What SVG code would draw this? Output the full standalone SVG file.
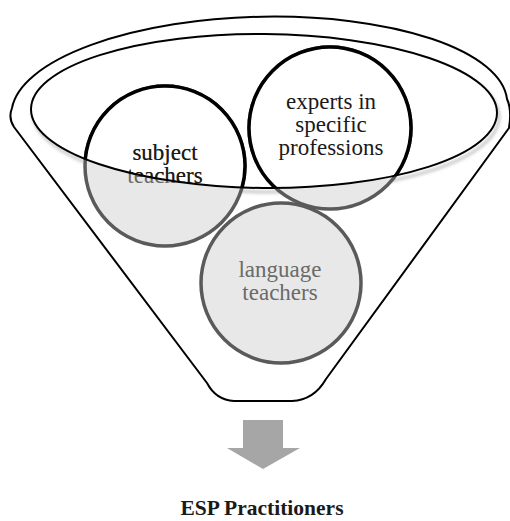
<svg xmlns="http://www.w3.org/2000/svg" width="510" height="521" viewBox="0 0 510 521">
  <defs>
    <style>
      .rim { fill: #ffffff; stroke: #000000; stroke-width: 2; stroke-linejoin: round; }
      .bowl-line { fill: none; stroke: #000000; stroke-width: 2; }
      .ball { fill: #e8e8e8; stroke: #5a5a5a; stroke-width: 3.5; }
      .ball-top { fill: #ffffff; stroke: #000000; stroke-width: 3.5; }
      .lbl { font-family: "Liberation Serif", "Times New Roman", serif; font-size: 23px; text-anchor: middle; }
      .lbl-low { fill: #6a6a6a; }
      .lbl-high { fill: #1a1a1a; }
      .arrow { fill: #a6a6a6; }
      .caption { font-family: "Liberation Serif", "Times New Roman", serif; font-size: 21.5px; font-weight: bold; fill: #1a1a1a; text-anchor: middle; }
    </style>
    <!-- opening of the funnel: everything inside it is shown un-shaded -->
    <clipPath id="mouth">
      <ellipse cx="264" cy="111" rx="233" ry="77" transform="rotate(0.5 264 111)"/>
    </clipPath>
    <filter id="soft" x="-10%" y="-10%" width="120%" height="130%">
      <feGaussianBlur stdDeviation="1.5"/>
    </filter>
  </defs>

  <!-- funnel body -->
  <g id="funnel">
    <path class="rim" d="M 14,127 Q 8,118 12,108 A 248 92 -1.5 0 1 507,99 Q 512,110 509,128 L 326,379 Q 314,400 292,401 L 234,401 Q 216,400 207,383 Z"/>
    <ellipse cx="266" cy="115" rx="233" ry="77" transform="rotate(0.5 266 115)" fill="none" stroke="#c8c8c8" stroke-width="3" filter="url(#soft)"/>
    <ellipse cx="264" cy="111" rx="233" ry="77" transform="rotate(0.5 264 111)" fill="#ffffff"/>
  </g>

  <g id="subject-teachers">
    <circle class="ball" cx="165" cy="166" r="80"/>
    <circle class="ball-top" cx="165" cy="166" r="80" clip-path="url(#mouth)"/>
    <text class="lbl lbl-low" x="165" y="160">subject</text>
    <text class="lbl lbl-low" x="165" y="183">teachers</text>
    <g clip-path="url(#mouth)">
      <text class="lbl lbl-high" x="165" y="160">subject</text>
      <text class="lbl lbl-high" x="165" y="183">teachers</text>
    </g>
  </g>

  <g id="experts">
    <circle class="ball" cx="330" cy="128" r="81"/>
    <circle class="ball-top" cx="330" cy="128" r="81" clip-path="url(#mouth)"/>
    <text class="lbl lbl-high" x="331" y="109">experts in</text>
    <text class="lbl lbl-high" x="331" y="132">specific</text>
    <text class="lbl lbl-high" x="331" y="155">professions</text>
  </g>

  <g id="language-teachers">
    <circle class="ball" cx="281" cy="283" r="80"/>
    <text class="lbl lbl-low" x="280" y="277">language</text>
    <text class="lbl lbl-low" x="280" y="300">teachers</text>
  </g>

  <!-- rim of the opening, drawn over the balls -->
  <g id="mouth-edge">
    <ellipse class="bowl-line" cx="264" cy="111" rx="233" ry="77" transform="rotate(0.5 264 111)"/>
  </g>

  <g id="connectors">
    <path class="arrow" d="M 243,420 L 283,420 L 283,448 L 300,448 L 263,469 L 227,448 L 243,448 Z"/>
  </g>

  <g id="esp-practitioners">
    <text class="caption" x="262" y="515">ESP Practitioners</text>
  </g>
</svg>
